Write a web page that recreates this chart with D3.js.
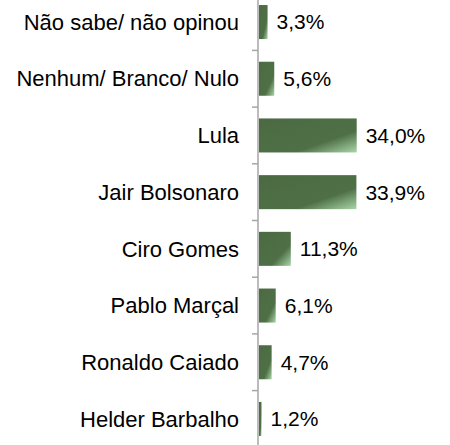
<!DOCTYPE html>
<html>
<head>
<meta charset="utf-8">
<script src="https://cdn.jsdelivr.net/npm/d3@7"></script>
<style>
  html, body { margin: 0; padding: 0; background: #fff; }
  svg { display: block; }
</style>
</head>
<body>
<svg id="chart" width="450" height="445"></svg>
<script>
const categories = ["Não sabe/ não opinou", "Nenhum/ Branco/ Nulo", "Lula", "Jair Bolsonaro", "Ciro Gomes", "Pablo Marçal", "Ronaldo Caiado", "Helder Barbalho"];
const values = [3.3, 5.6, 34.0, 33.9, 11.3, 6.1, 4.7, 1.2];
const valueLabels = ["3,3%", "5,6%", "34,0%", "33,9%", "11,3%", "6,1%", "4,7%", "1,2%"];

const svg = d3.select("#chart");
const axisX = 258;

const x = d3.scaleLinear().domain([0, 34]).range([axisX, 356.7]);
const y = d3.scaleBand().domain(categories).range([-6.3, 447.3]).paddingInner(0.4).paddingOuter(0.2);

const defs = svg.append("defs");
const grad = defs.append("linearGradient").attr("id", "barGrad")
  .attr("x1", 0).attr("y1", 0).attr("x2", 1).attr("y2", 1);
grad.append("stop").attr("offset", "0%").attr("stop-color", "#4b6a43");
grad.append("stop").attr("offset", "68%").attr("stop-color", "#4f7047");
grad.append("stop").attr("offset", "100%").attr("stop-color", "#a9d6a8");

svg.append("g").selectAll("rect").data(values).join("rect")
  .attr("x", axisX + 1)
  .attr("y", (d, i) => y(categories[i]))
  .attr("width", d => Math.max(0, x(d) - axisX - 1))
  .attr("height", y.bandwidth())
  .attr("fill", "url(#barGrad)");

// axis line and ticks at category boundaries
const step = y.step();
const boundaries = categories.slice(1).map(c => y(c) - (step - y.bandwidth()) / 2);
svg.append("line").attr("x1", axisX).attr("x2", axisX).attr("y1", 0).attr("y2", 445)
  .attr("stroke", "#a6a6a6").attr("stroke-width", 1.5);
svg.append("g").selectAll("line").data(boundaries).join("line")
  .attr("x1", axisX - 6).attr("x2", axisX).attr("y1", d => d).attr("y2", d => d)
  .attr("stroke", "#a6a6a6").attr("stroke-width", 1.5);

const font = "Liberation Sans, Arial, sans-serif";
svg.append("g").selectAll("text").data(categories).join("text")
  .attr("x", 239)
  .attr("y", d => y(d) + y.bandwidth() / 2)
  .attr("dy", "0.35em")
  .attr("text-anchor", "end")
  .attr("font-family", font).attr("font-size", 22).attr("fill", "#000")
  .text(d => d);

svg.append("g").selectAll("text").data(values).join("text")
  .attr("x", d => x(d) + 9)
  .attr("y", (d, i) => y(categories[i]) + y.bandwidth() / 2)
  .attr("dy", "0.35em")
  .attr("font-family", font).attr("font-size", 21).attr("fill", "#000")
  .text((d, i) => valueLabels[i]);
</script>
</body>
</html>
